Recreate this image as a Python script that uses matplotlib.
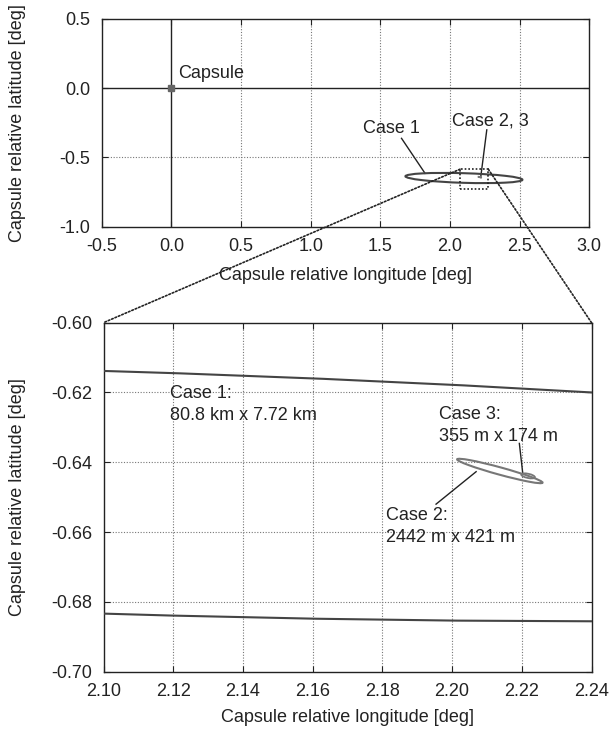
import matplotlib.pyplot as plt
from matplotlib.patches import Ellipse, Rectangle, ConnectionPatch

plt.rcParams['font.family'] = ['Liberation Sans', 'DejaVu Sans']
plt.rcParams['font.size'] = 13

# overview axes
top_xlim = [-0.5, 3.0]
top_ylim = [-1.0, 0.5]
top_xticks = [-0.5, 0.0, 0.5, 1.0, 1.5, 2.0, 2.5, 3.0]
top_yticks = [-1.0, -0.5, 0.0, 0.5]

# zoomed axes
bot_xlim = [2.10, 2.24]
bot_ylim = [-0.70, -0.60]
bot_xticks = [2.10, 2.12, 2.14, 2.16, 2.18, 2.20, 2.22, 2.24]
bot_yticks = [-0.70, -0.68, -0.66, -0.64, -0.62, -0.60]

capsule = (0.0, 0.0)

# dispersion ellipses: center, width, height (deg), angle
case1 = dict(xy=(2.10, -0.6486), width=0.84, height=0.0695, angle=-1.72)
case2 = dict(xy=(2.2137, -0.6425), width=0.0254, height=0.0021, angle=-15.3)
case3 = dict(xy=(2.2218, -0.6439), width=0.0040, height=0.0012, angle=-12.0)

zoom_box = [2.072, -0.730, 0.203, 0.145]  # x, y, w, h

ink = '#222222'
fs = 13
grid_kw = dict(color='#777777', linestyle=(0, (1, 1.5)), linewidth=0.8)

fig = plt.figure(figsize=(6.11, 7.30), dpi=100)
ax1 = fig.add_axes([0.1665, 0.6895, 0.798, 0.2845])
ax2 = fig.add_axes([0.1694, 0.0799, 0.7987, 0.4781])

for ax in (ax1, ax2):
    ax.tick_params(direction='in', top=True, right=True, length=4,
                   labelsize=fs, colors=ink)
    ax.tick_params(axis='x', pad=8.5)
    ax.tick_params(axis='y', pad=8)
    for s in ax.spines.values():
        s.set_color(ink)
        s.set_linewidth(1.0)

# ---- top plot
ax1.set_xlim(top_xlim)
ax1.set_ylim(top_ylim)
ax1.set_xticks(top_xticks)
ax1.set_yticks(top_yticks)
ax1.set_xticklabels(['%.1f' % v for v in top_xticks])
ax1.set_yticklabels(['%.1f' % v for v in top_yticks])
for v in top_xticks[1:-1]:
    if v != 0.0:
        ax1.axvline(v, **grid_kw, zorder=0)
for v in top_yticks[1:-1]:
    if v != 0.0:
        ax1.axhline(v, **grid_kw, zorder=0)
ax1.axvline(0.0, color=ink, linewidth=1.0, zorder=1)
ax1.axhline(0.0, color=ink, linewidth=1.0, zorder=1)

ax1.plot(capsule[0], capsule[1], marker='s', markersize=4.5, color='#666666',
         linestyle='none', zorder=3)
ax1.text(0.05, 0.108, 'Capsule', fontsize=fs, color=ink, va='center', ha='left')

ax1.add_patch(Ellipse(**case1, fill=False, edgecolor='#444444', linewidth=1.5, zorder=3))
ax1.add_patch(Ellipse(**case2, fill=False, edgecolor='#777777', linewidth=1.2, zorder=3))
ax1.add_patch(Ellipse(**case3, fill=False, edgecolor='#777777', linewidth=1.2, zorder=3))
ax1.add_patch(Rectangle((zoom_box[0], zoom_box[1]), zoom_box[2], zoom_box[3], fill=False,
                        edgecolor=ink, linestyle=(0, (1, 1.2)), linewidth=1.2, zorder=4))

ax1.text(1.582, -0.289, 'Case 1', fontsize=fs, color=ink, ha='center', va='center')
ax1.plot([1.652, 1.821], [-0.362, -0.615], color=ink, linewidth=1.0)
ax1.text(2.013, -0.236, 'Case 2, 3', fontsize=fs, color=ink, ha='left', va='center')
ax1.plot([2.264, 2.221], [-0.301, -0.639], color=ink, linewidth=1.0)

ax1.set_xlabel('Capsule relative longitude [deg]', fontsize=fs, color=ink)
ax1.set_ylabel('Capsule relative latitude [deg]', fontsize=fs, color=ink)
ax1.xaxis.set_label_coords(0.5, -0.194)
ax1.yaxis.set_label_coords(-0.155, 0.5)

# ---- bottom plot
ax2.set_xlim(bot_xlim)
ax2.set_ylim(bot_ylim)
ax2.set_xticks(bot_xticks)
ax2.set_yticks(bot_yticks)
ax2.set_xticklabels(['%.2f' % v for v in bot_xticks])
ax2.set_yticklabels(['%.2f' % v for v in bot_yticks])
for v in bot_xticks[1:-1]:
    ax2.axvline(v, **grid_kw, zorder=0)
for v in bot_yticks[1:-1]:
    ax2.axhline(v, **grid_kw, zorder=0)

ax2.add_patch(Ellipse(**case1, fill=False, edgecolor='#444444', linewidth=1.5, zorder=3))
ax2.add_patch(Ellipse(**case2, fill=False, edgecolor='#777777', linewidth=1.5, zorder=3))
ax2.add_patch(Ellipse(**case3, fill=False, edgecolor='#777777', linewidth=1.3, zorder=3))

ax2.text(2.1191, -0.6204, 'Case 1:', fontsize=fs, color=ink, ha='left', va='center')
ax2.text(2.1191, -0.6267, '80.8 km x 7.72 km', fontsize=fs, color=ink, ha='left', va='center')
ax2.text(2.1963, -0.6262, 'Case 3:', fontsize=fs, color=ink, ha='left', va='center')
ax2.text(2.1963, -0.6327, '355 m x 174 m', fontsize=fs, color=ink, ha='left', va='center')
ax2.plot([2.2193, 2.2203], [-0.6346, -0.6434], color=ink, linewidth=1.0)
ax2.text(2.1810, -0.6553, 'Case 2:', fontsize=fs, color=ink, ha='left', va='center')
ax2.text(2.1810, -0.6615, '2442 m x 421 m', fontsize=fs, color=ink, ha='left', va='center')
ax2.plot([2.2069, 2.1954], [-0.6427, -0.6520], color=ink, linewidth=1.0)

ax2.set_xlabel('Capsule relative longitude [deg]', fontsize=fs, color=ink)
ax2.set_ylabel('Capsule relative latitude [deg]', fontsize=fs, color=ink)
ax2.xaxis.set_label_coords(0.5, -0.107)
ax2.yaxis.set_label_coords(-0.159, 0.5)

# zoom connectors
for xa, xb in [(zoom_box[0], bot_xlim[0]), (zoom_box[0] + zoom_box[2], bot_xlim[1])]:
    con = ConnectionPatch(xyA=(xa, zoom_box[1] + zoom_box[3]), coordsA='data', axesA=ax1,
                          xyB=(xb, bot_ylim[1]), coordsB='data', axesB=ax2,
                          color=ink, linestyle=(0, (1, 1.2)), linewidth=1.2)
    fig.add_artist(con)

fig.savefig('out.png', dpi=100)
